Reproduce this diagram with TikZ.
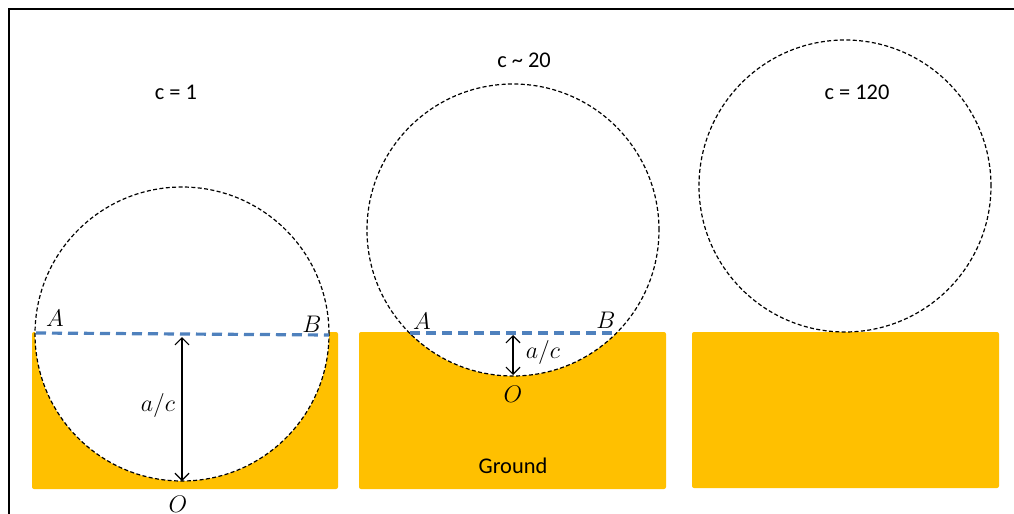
\documentclass[tikz,border=0pt]{standalone}
\usepackage{fontspec}
\setmainfont{Carlito}
\usepackage{tikz}
\usepackage{amsmath}
\usetikzlibrary{arrows.meta}
\definecolor{gold}{RGB}{255,192,0}
\definecolor{chordblue}{RGB}{79,129,189}
\tikzstyle{ground} = [fill=gold, rounded corners=1pt]
\tikzstyle{orb} = [draw=black, fill=white, line width=0.6pt, dash pattern=on 2pt off 1.2pt]
\tikzstyle{chord} = [draw=chordblue, line width=1.6pt, dash pattern=on 5pt off 3pt]
\tikzstyle{gap} = [draw=black, line width=0.6pt, {Straight Barb[length=3.5pt,width=7pt]}-{Straight Barb[length=3.5pt,width=7pt]}]
\tikzstyle{clabel} = [inner sep=1pt, font=\fontsize{11.2}{13}\selectfont]
\tikzstyle{plabel} = [inner sep=1pt, font=\large]

\begin{document}
\begin{tikzpicture}[x=0.5pt, y=-0.5pt]
\useasboundingbox (0,0) rectangle (1014,514);
% frame
\draw[line width=1pt] (9,514) -- (9,9) -- (1014,9);

% Panel 1, c = 1
\fill[ground] (32,332) rectangle (338,489);
\path[orb] (182,334) circle[radius=73.5pt];
\coordinate (a1) at (36,333);
\coordinate (b1) at (329,335);
\coordinate (t1) at (182,337);
\coordinate (o1) at (182,481);
\draw[chord] (a1) -- (b1);
\draw[gap] (t1) -- (o1);
\node[plabel] (la1) at (55,318) {$A$};
\node[plabel] (lb1) at (312,324) {$B$};
\node[plabel] (lo1) at (178,504) {$O$};
\node[plabel] (lac1) at (158,405) {$a/c$};
\node[clabel] (c1) at (176,92) {c = 1};

% Panel 2, c ~ 20
\fill[ground] (359,332) rectangle (666,489);
\path[orb] (513,230) circle[radius=73pt];
\coordinate (a2) at (410,333);
\coordinate (b2) at (616,333);
\coordinate (t2) at (513,335);
\coordinate (o2) at (513,375);
\draw[chord] (a2) -- (b2);
\draw[gap] (t2) -- (o2);
\node[plabel] (la2) at (422,321) {$A$};
\node[plabel] (lb2) at (606,320) {$B$};
\node[plabel] (lo2) at (513,394) {$O$};
\node[plabel] (lac2) at (543,352) {$a/c$};
\node[clabel] (c2) at (524,60) {c \char`~\ 20};
\node[clabel] (gr) at (513,466) {Ground};

% Panel 3, c = 120
\fill[ground] (692,332) rectangle (999,488);
\path[orb] (845,186) circle[radius=73pt];
\node[clabel] (c3) at (857,92) {c = 120};
\end{tikzpicture}
\end{document}
